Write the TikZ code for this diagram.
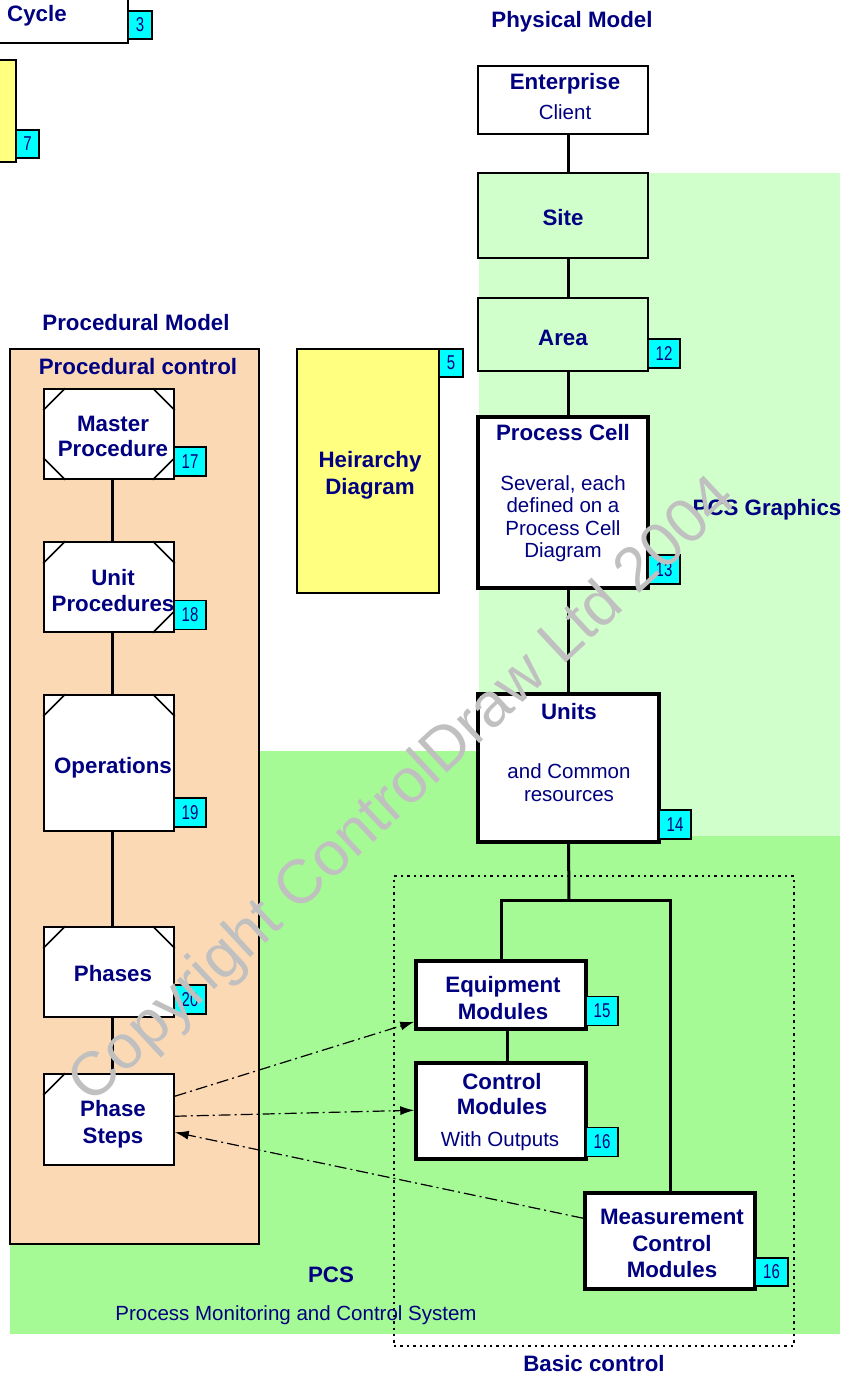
\documentclass[tikz,border=0pt]{standalone}
\usepackage{fontspec}
\setmainfont{Liberation Sans}
\usetikzlibrary{calc,arrows.meta}
\definecolor{navy}{RGB}{0,0,128}
\definecolor{peach}{RGB}{252,217,181}
\definecolor{palegreen}{RGB}{208,255,204}
\definecolor{pcsgreen}{RGB}{165,250,150}
\definecolor{memo}{RGB}{255,255,128}
\definecolor{tagcyan}{RGB}{0,255,255}
\definecolor{wmgray}{RGB}{192,192,192}

% corner cuts of the procedural-control boxes
\newcommand\cutTL[1]{\draw[cut] ($(#1.north west)+(0,22)$) -- ($(#1.north west)+(22,0)$);}
\newcommand\cutTR[1]{\draw[cut] ($(#1.north east)+(-22,0)$) -- ($(#1.north east)+(0,22)$);}
\newcommand\cutBL[1]{\draw[cut] ($(#1.south west)+(0,-22)$) -- ($(#1.south west)+(22,0)$);}
\newcommand\cutBR[1]{\draw[cut] ($(#1.south east)+(-22,0)$) -- ($(#1.south east)+(0,-22)$);}

\begin{document}
\begin{tikzpicture}[x=1pt,y=-1pt,
  bt/.style={anchor=base,inner sep=0,text=navy,font=\fontsize{22.3}{26}\selectfont\bfseries},
  rt/.style={anchor=base,inner sep=0,text=navy,font=\fontsize{20.5}{23}\selectfont},
  anybox/.style={draw=black,rectangle,inner sep=0,minimum width=#1},
  pbox/.style={anybox=130pt,fill=white,line width=1.5pt,minimum height=90pt},
  thinbox/.style={anybox=170pt,line width=2pt},
  thickbox/.style={anybox=170pt,fill=white,line width=3.5pt},
  badge/.style={draw=black,fill=tagcyan,line width=1.5pt,inner sep=0,
    minimum width=32pt,minimum height=29pt,text=navy,
    font=\fontsize{20}{20}\selectfont},
  cut/.style={line width=1.5pt,black},
  conn/.style={line width=3pt,black},
  dashdot/.style={line width=1.2pt,black,dash pattern=on 12pt off 4pt on 2pt off 4pt},
  tip/.style={-{Latex[length=14pt,width=9pt]}}
]
\useasboundingbox (0,0) rectangle (843,1375);

% background regions
\fill[pcsgreen] (10,751) rectangle (840,1334);
\fill[palegreen] (479,173) rectangle (840,836);

% neighbouring sheets (partly visible)
\node[thinbox,fill=white,minimum width=133pt,minimum height=48pt] (cyc) at (61.5,19) {};
\node[bt] (cyct) at (37,22) {Cycle};
\node[badge,minimum width=24pt,minimum height=28pt] (b3) at (140,25) {\scalebox{0.75}[1]{3}};
\node[thinbox,fill=memo,minimum width=21pt,minimum height=102pt] (memo7) at (5.5,111) {};
\node[badge,minimum width=23pt,minimum height=28pt] (b7) at (27.5,144) {\scalebox{0.75}[1]{7}};

% procedural model
\node[bt] (pmodel) at (136,330) {Procedural Model};
\node[draw=black,fill=peach,line width=1.5pt,inner sep=0,minimum width=249pt,minimum height=895pt] (proc) at (134.5,796.5) {};
\node[bt] (proct) at (138,374) {Procedural control};

\node[pbox] (mp) at (109,434) {};
\node[pbox] (up) at (109,587) {};
\node[pbox,minimum height=136pt] (ops) at (109,763) {};
\node[pbox] (ph) at (109,972) {};
\node[pbox,minimum height=91pt] (ps) at (109,1119.5) {};

\cutTL{mp}\cutTR{mp}\cutBL{mp}\cutBR{mp}
\cutTL{up}\cutTR{up}\cutBR{up}
\cutTL{ops}\cutTR{ops}
\cutTL{ph}\cutTR{ph}
\cutTL{ps}

\draw[conn] ($(mp.south)+(3,0)$) -- ($(up.north)+(3,0)$);
\draw[conn] ($(up.south)+(3,0)$) -- ($(ops.north)+(3,0)$);
\draw[conn] ($(ops.south)+(3,0)$) -- ($(ph.north)+(3,0)$);
\draw[conn] ($(ph.south)+(3,0)$) -- ($(ps.north)+(3,0)$);

\node[bt] (mp1) at (113,431) {Master};
\node[bt] (mp2) at (113,456) {Procedure};
\node[bt] (up1) at (113,585) {Unit};
\node[bt] (up2) at (113,611) {Procedures};
\node[bt] (ops1) at (113,773) {Operations};
\node[bt] (ph1) at (113,981) {Phases};
\node[bt] (ps1) at (113,1116) {Phase};
\node[bt] (ps2) at (113,1143) {Steps};

\node[badge] (b17) at (190,461.5) {\scalebox{0.75}[1]{17}};
\node[badge] (b18) at (190,615) {\scalebox{0.75}[1]{18}};
\node[badge] (b19) at (190,812.5) {\scalebox{0.75}[1]{19}};
\node[badge] (b20) at (190,999.5) {\scalebox{0.75}[1]{20}};

% hierarchy sheet
\node[draw=black,fill=memo,line width=1.5pt,inner sep=0,minimum width=142pt,minimum height=244pt] (heir) at (368,471) {};
\node[badge,minimum width=24pt,minimum height=28pt] (b5) at (451,363) {\scalebox{0.75}[1]{5}};
\node[bt] (heir1) at (370,467) {Heirarchy};
\node[bt] (heir2) at (370,494) {Diagram};

% physical model
\node[bt] (phys) at (572,28) {Physical Model};
\node[thinbox,fill=white,minimum height=68pt] (ent) at (563,100) {};
\node[thinbox,fill=palegreen,minimum height=85pt] (site) at (563,215.5) {};
\node[thinbox,fill=palegreen,minimum height=73pt] (area) at (563,334.5) {};
\node[thickbox,minimum height=171pt] (cell) at (563,502.5) {};
\node[thickbox,minimum width=181pt,minimum height=148pt] (units) at (568.5,768) {};
\node[thickbox,minimum height=68pt] (eq) at (501,995) {};
\node[thickbox,minimum height=96pt] (ctrl) at (501,1111) {};
\node[thickbox,minimum height=96pt] (meas) at (670,1241) {};

\coordinate (jn) at (569,900);
\draw[conn] (ent.south -| units.north) -- (site.north -| units.north);
\draw[conn] (site.south -| units.north) -- (area.north -| units.north);
\draw[conn] (area.south -| units.north) -- (cell.north -| units.north);
\draw[conn] (cell.south -| units.north) -- (units.north);
\draw[conn] (units.south) -- (jn);
\draw[conn] (eq.north) |- (jn) -| (meas.north);
\draw[conn] ($(eq.south)+(6,0)$) -- ($(ctrl.north)+(6,0)$);

\node[bt] (ent1) at (565,90) {Enterprise};
\node[rt] (ent2) at (565,120) {Client};
\node[bt] (site1) at (563,225) {Site};
\node[bt] (area1) at (563,345) {Area};
\node[bt] (cell1) at (563,440) {Process Cell};
\node[rt] (cell2) at (563,490) {Several, each};
\node[rt] (cell3) at (563,512) {defined on a};
\node[rt] (cell4) at (563,535) {Process Cell};
\node[rt] (cell5) at (563,557) {Diagram};
\node[bt] (gfx) at (767,515) {PCS Graphics};
\node[bt] (units1) at (569,719) {Units};
\node[rt] (units2) at (569,778) {and Common};
\node[rt] (units3) at (569,801) {resources};
\node[bt] (eq1) at (503,992) {Equipment};
\node[bt] (eq2) at (503,1019) {Modules};
\node[bt] (ctrl1) at (502,1089) {Control};
\node[bt] (ctrl2) at (502,1114) {Modules};
\node[rt] (ctrl3) at (500,1146) {With Outputs};
\node[bt] (meas1) at (672,1224) {Measurement};
\node[bt] (meas2) at (672,1251) {Control};
\node[bt] (meas3) at (672,1277) {Modules};

\node[badge] (b12) at (664,353.5) {\scalebox{0.75}[1]{12}};
\node[badge] (b13) at (664,569.5) {\scalebox{0.75}[1]{13}};
\node[badge] (b14) at (675,824.5) {\scalebox{0.75}[1]{14}};
\node[badge] (b15) at (602,1011) {\scalebox{0.75}[1]{15}};
\node[badge] (b16a) at (602,1142) {\scalebox{0.75}[1]{16}};
\node[badge,minimum width=33pt,minimum height=28pt] (b16b) at (771.5,1272) {\scalebox{0.75}[1]{16}};

% basic control boundary
\node[draw=black,line width=2.4pt,dash pattern=on 2.4pt off 4pt,inner sep=0,minimum width=400pt,minimum height=470pt] (basic) at (594,1111) {};
\node[bt] (basict) at (594,1371) {Basic control};

% PCS captions
\node[bt] (pcs) at (331,1282) {PCS};
\node[rt] (pcs2) at (296,1320) {Process Monitoring and Control System};

% phase-step links
\draw[dashdot,tip] ($(ps.north east)+(0,23)$) -- ($(eq.south west)+(0,-9)$);
\draw[dashdot,tip] ($(ps.north east)+(0,43)$) -- ($(ctrl.north west)+(0,49)$);
\draw[dashdot,tip] ($(meas.north west)+(0,27)$) -- ($(ps.north east)+(0,59)$);

% watermark
\node[rotate=43,text=wmgray,inner sep=0,font=\fontsize{62}{62}\selectfont] (wm) at (404,792) {Copyright ControlDraw Ltd 2004};
\end{tikzpicture}
\end{document}
